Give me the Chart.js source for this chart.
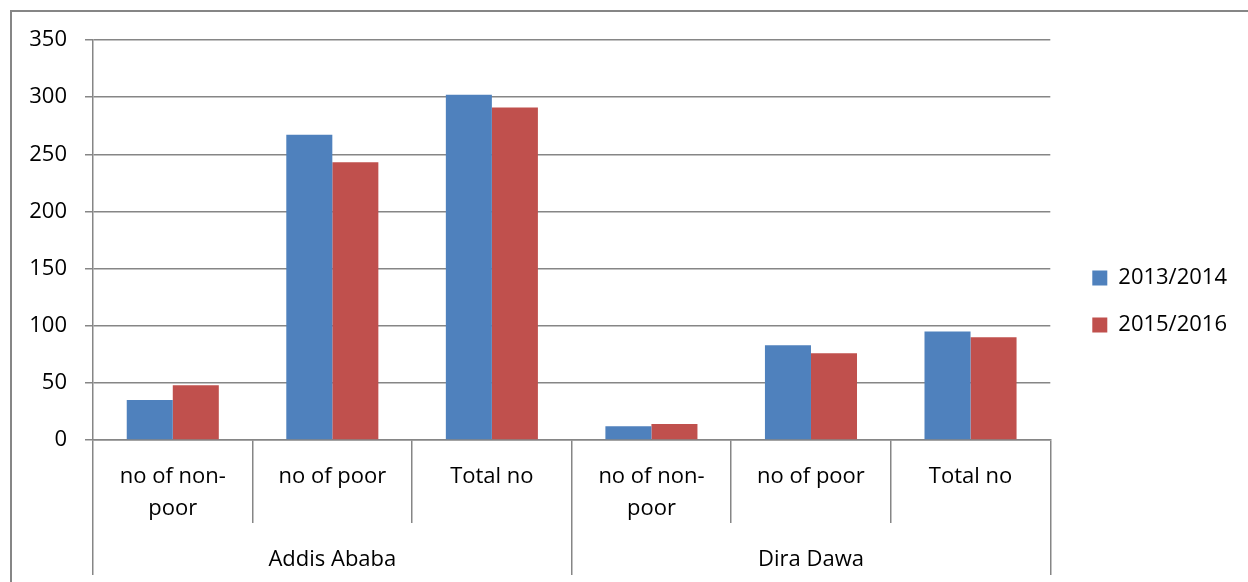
<!DOCTYPE html>
<html>
<head>
<meta charset="utf-8">
<script src="https://cdn.jsdelivr.net/npm/chart.js@4/dist/chart.umd.min.js"></script>
<style>
  html, body { margin: 0; padding: 0; background: #ffffff; }
  #wrap { width: 1248px; height: 582px; position: relative; }
</style>
</head>
<body>
<div id="wrap"><canvas id="chart" width="1248" height="582"></canvas></div>
<script>
// Category labels (inner level) and region groups (outer level)
const categories = [['no of non-', 'poor'], 'no of poor', 'Total no', ['no of non-', 'poor'], 'no of poor', 'Total no'];
const groups = ['Addis Ababa', 'Dira Dawa'];

// Series values
const seriesNames = ['2013/2014', '2015/2016'];
const values2013 = [35, 267, 302, 12, 83, 95];
const values2015 = [48, 243, 291, 14, 76, 90];

// Value axis
const yMin = 0;
const yMax = 350;
const yStep = 50;

const AXIS_GREY = '#868686';
const FONT = { family: '"Open Sans", "Liberation Sans", sans-serif', size: 22, lineHeight: 1.45 };

// Outer frame of the chart
const framePlugin = {
  id: 'frame',
  beforeDraw(chart) {
    const ctx = chart.ctx;
    ctx.save();
    ctx.strokeStyle = AXIS_GREY;
    ctx.lineWidth = 2;
    ctx.beginPath();
    ctx.moveTo(11, chart.height);
    ctx.lineTo(11, 11);
    ctx.lineTo(chart.width, 11);
    ctx.stroke();
    ctx.restore();
  }
};

// Nudge the legend block slightly away from the plot area
const legendOffset = {
  id: 'legendOffset',
  afterLayout(chart) {
    const lg = chart.legend;
    if (!lg) return;
    lg.left += 17; lg.right += 17;
    lg.top -= 6; lg.bottom -= 6;
  }
};

new Chart(document.getElementById('chart'), {
  type: 'bar',
  data: {
    labels: categories,
    datasets: [
      { label: seriesNames[0], data: values2013, backgroundColor: '#4F81BD', borderWidth: 0 },
      { label: seriesNames[1], data: values2015, backgroundColor: '#C0504D', borderWidth: 0 }
    ]
  },
  options: {
    responsive: false,
    animation: false,
    devicePixelRatio: 1,
    categoryPercentage: 0.577,
    barPercentage: 1,
    layout: { padding: { top: 40, left: 0, right: 28, bottom: 7 } },
    plugins: {
      tooltip: { enabled: false },
      legend: {
        position: 'right',
        align: 'center',
        labels: {
          boxWidth: 15,
          boxHeight: 15,
          padding: 25,
          color: '#000000',
          font: FONT
        }
      }
    },
    scales: {
      y: {
        min: yMin,
        max: yMax,
        ticks: { stepSize: yStep, color: '#000000', font: FONT, padding: 18 },
        grid: { color: AXIS_GREY, lineWidth: 1.5, tickLength: 8 },
        border: { color: AXIS_GREY, width: 1.5 },
        afterFit(scale) { scale.width = 93; }
      },
      x: {
        type: 'category',
        offset: true,
        weight: 0,
        grid: { offset: true, drawOnChartArea: false, color: AXIS_GREY, lineWidth: 1.5, tickLength: 83 },
        border: { color: AXIS_GREY, width: 1.5 },
        ticks: { color: '#000000', font: FONT, padding: -62, maxRotation: 0, autoSkip: false },
        afterFit(scale) { scale.height = 83; }
      },
      x2: {
        type: 'category',
        position: 'bottom',
        labels: groups,
        offset: true,
        weight: 1,
        grid: { offset: true, drawOnChartArea: false, color: AXIS_GREY, lineWidth: 1.5, tickLength: 52 },
        border: { display: false },
        ticks: { color: '#000000', font: FONT, padding: -31, maxRotation: 0, autoSkip: false },
        afterFit(scale) { scale.height = 52; }
      }
    }
  },
  plugins: [framePlugin, legendOffset]
});
</script>
</body>
</html>
